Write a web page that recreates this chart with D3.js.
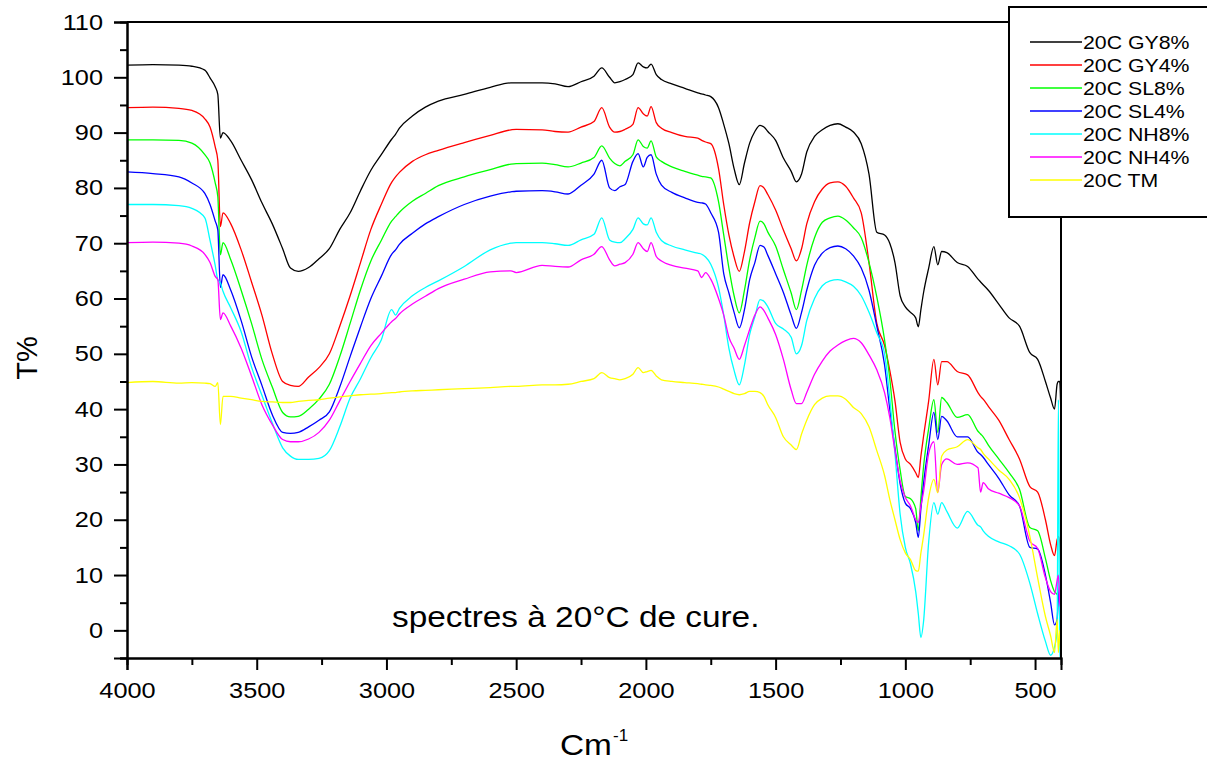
<!DOCTYPE html>
<html>
<head>
<meta charset="utf-8">
<script src="https://cdn.jsdelivr.net/npm/d3@7"></script>
<style>
body { margin: 0; background: #fff; }
text { font-family: "Liberation Sans", Arial, sans-serif; fill: #000; }
</style>
</head>
<body>
<div id="chart"></div>
<script>
// wavenumber grid (cm-1)
const wavenumbers = [
  4000,3900,3800,3750,3700,3680,3660,3650,3640,3630,
  3600,3560,3520,3480,3440,3400,3370,3340,3300,3260,
  3220,3180,3140,3100,3060,3020,2980,2965,2950,2900,
  2850,2800,2700,2600,2520,2500,2400,2350,2300,2250,
  2200,2170,2140,2120,2100,2080,2050,2030,2010,1995,
  1980,1960,1940,1900,1850,1800,1785,1770,1750,1720,
  1700,1680,1660,1640,1620,1600,1580,1560,1545,1530,
  1500,1470,1440,1420,1400,1380,1350,1320,1290,1260,
  1230,1200,1170,1140,1110,1080,1060,1040,1020,1000,
  980,960,950,940,930,910,890,875,860,840,
  800,760,720,710,700,680,640,600,560,520,
  490,460,440,425,415,410,405,400
];

// T% values, one array per sample
const gy8 = [
  102.2,102.3,102.2,102.0,101.3,99.9,98.3,96.9,89.0,90.0,
  88.5,85.0,81.5,77.3,73.5,69.0,65.5,64.9,65.6,67.2,
  69.0,72.5,75.5,79.5,83.2,86.0,88.8,89.7,90.8,93.0,
  94.6,95.7,96.9,98.2,99.0,99.0,99.0,98.8,98.3,99.2,
  100.2,101.7,100.0,99.0,99.2,99.6,100.5,102.6,101.9,101.7,
  102.4,100.5,99.6,98.8,98.0,97.2,97.0,96.8,96.5,94.5,
  91.5,88.0,83.5,80.6,84.5,88.1,90.2,91.3,91.0,90.2,
  88.6,85.4,83.0,81.1,82.5,86.5,89.3,90.5,91.3,91.6,
  91.0,90.1,88.0,82.5,72.0,71.5,70.0,66.5,60.5,58.5,
  57.5,56.5,54.9,58.0,61.0,65.5,69.4,66.1,68.5,68.3,
  66.5,65.8,63.5,63.0,62.5,61.5,59.0,56.5,55.0,50.2,
  49.0,45.0,42.0,40.0,44.5,45.0,45.0,38.0
];
const gy4 = [
  94.5,94.6,94.4,94.0,92.5,91.0,87.4,85.0,73.0,75.5,
  73.5,68.8,63.0,57.0,50.0,45.0,44.3,44.1,45.8,47.5,
  50.0,55.0,60.5,66.5,72.5,77.0,81.0,82.0,82.8,84.8,
  86.0,86.8,88.2,89.5,90.5,90.6,90.5,90.2,90.1,91.0,
  92.0,94.5,91.0,90.1,90.2,90.6,91.5,94.5,93.4,93.0,
  94.7,91.8,90.8,90.0,89.3,89.0,88.6,88.3,88.0,83.5,
  77.0,71.5,67.5,64.9,68.5,73.7,77.5,80.4,80.0,78.8,
  76.0,72.4,69.0,66.8,69.0,73.5,77.5,79.8,80.9,81.1,
  80.3,78.2,75.5,66.5,55.5,51.5,47.0,41.5,34.0,31.0,
  30.0,28.5,27.6,31.5,35.0,41.5,49.0,44.4,48.6,48.6,
  46.8,46.2,43.0,42.3,41.8,40.5,38.0,34.5,31.0,26.0,
  25.0,20.0,15.5,13.5,16.4,17.0,16.0,10.0
];
const sl8 = [
  88.7,88.7,88.6,88.1,86.0,84.5,80.9,78.4,67.9,70.1,
  67.0,61.5,55.5,49.0,44.0,39.4,38.6,38.7,40.0,41.8,
  44.5,49.5,55.5,61.6,66.8,70.5,74.0,74.8,75.6,77.6,
  79.0,80.4,82.0,83.3,84.3,84.4,84.5,84.2,83.8,84.5,
  85.5,87.6,85.4,84.4,84.0,84.8,86.0,88.7,87.5,87.2,
  88.5,85.6,84.8,83.8,83.0,82.3,82.1,82.0,81.8,77.5,
  71.5,65.5,60.5,57.4,61.5,67.0,71.0,74.0,73.5,72.0,
  69.5,65.2,61.0,58.0,61.5,66.0,71.0,73.8,74.6,74.9,
  74.2,72.8,71.0,66.5,60.3,52.5,45.5,36.0,29.0,24.2,
  23.8,22.0,18.0,24.0,29.5,36.5,41.7,35.8,42.1,41.2,
  38.5,39.0,36.0,35.5,35.0,33.5,31.0,28.5,25.5,18.6,
  18.0,13.0,9.0,7.0,6.5,6.0,5.0,3.0
];
const sl4 = [
  82.9,82.6,82.0,80.9,79.0,77.0,74.0,72.4,62.0,64.3,
  61.5,56.0,49.5,44.3,39.0,35.8,35.6,35.8,36.8,38.0,
  39.5,44.0,49.5,54.9,60.0,64.0,68.0,68.8,69.8,71.8,
  73.5,74.8,77.0,78.5,79.3,79.4,79.5,79.3,78.9,80.5,
  82.5,85.0,80.0,79.5,80.2,80.6,84.8,86.2,83.8,85.5,
  86.0,82.5,80.5,79.2,78.2,77.4,77.3,77.1,75.5,72.0,
  64.5,61.0,57.5,54.7,58.0,63.4,66.5,69.6,69.3,67.8,
  64.5,61.1,57.0,54.6,57.5,61.5,66.0,68.2,69.2,69.5,
  69.0,67.7,65.5,61.5,55.0,48.0,40.0,33.0,26.5,23.0,
  22.0,19.5,16.8,22.0,26.5,33.5,39.4,34.5,38.7,37.9,
  35.0,35.0,32.2,31.8,31.3,30.0,27.5,24.5,22.5,15.0,
  14.7,10.0,5.0,1.0,2.0,6.0,8.0,4.0
];
const nh8 = [
  77.0,77.0,76.8,76.3,74.6,70.5,66.0,63.4,62.8,61.3,
  58.3,54.0,47.6,42.5,37.5,33.0,31.5,30.9,30.9,31.1,
  32.5,36.8,42.0,45.5,49.3,52.5,58.0,57.0,58.2,60.5,
  62.0,63.2,65.8,68.8,70.0,70.1,70.1,69.9,69.6,70.6,
  71.6,74.6,70.6,70.2,70.1,70.8,72.5,74.6,73.5,73.3,
  74.6,72.0,70.5,69.5,68.8,68.2,68.0,67.5,66.2,62.0,
  57.0,51.0,47.0,44.4,48.0,53.5,56.7,59.8,59.5,58.5,
  55.5,54.5,53.0,50.0,51.5,56.0,60.0,62.3,63.2,63.4,
  63.0,62.2,60.5,57.5,53.8,50.0,42.0,32.0,21.0,15.0,
  12.0,7.0,3.0,-1.3,1.5,16.0,23.1,21.0,23.1,21.5,
  18.5,21.5,19.0,18.7,18.0,17.0,16.0,15.3,13.8,8.5,
  3.0,-2.0,-4.5,-3.0,0.0,41.7,-5.0,-5.0
];
const nh4 = [
  70.1,70.2,70.0,69.5,68.0,66.5,64.0,63.4,56.2,57.4,
  55.0,51.0,46.0,40.8,37.2,34.5,34.1,34.1,34.6,35.8,
  38.0,41.5,45.0,48.3,51.5,53.7,55.8,56.4,57.2,59.0,
  60.4,61.8,63.5,64.8,65.0,64.7,66.0,65.8,65.7,67.0,
  68.0,69.4,67.0,65.9,66.2,66.5,68.0,70.1,69.0,68.5,
  70.1,67.6,66.8,66.0,65.5,65.0,63.8,64.7,63.5,60.0,
  57.0,53.0,51.0,49.0,51.5,54.4,57.0,58.5,57.8,56.5,
  53.5,49.0,43.5,41.0,41.0,43.0,46.3,48.7,50.5,51.6,
  52.4,52.8,52.0,49.8,47.1,43.0,38.5,32.5,27.0,24.0,
  22.5,20.0,19.5,22.5,25.0,32.0,34.1,24.9,30.0,31.0,
  30.0,30.3,29.4,25.0,26.7,25.6,24.8,24.0,22.5,16.1,
  14.8,9.5,7.0,6.5,9.0,10.0,5.0,4.0
];
const tm = [
  44.8,45.0,44.7,44.8,44.7,44.6,44.1,44.8,37.2,42.3,
  42.3,42.0,41.7,41.4,41.3,41.2,41.2,41.4,41.6,41.7,
  42.0,42.2,42.4,42.6,42.7,42.8,43.0,43.0,43.1,43.3,
  43.4,43.5,43.7,43.9,44.1,44.1,44.4,44.4,44.5,45.0,
  45.5,46.6,45.7,45.5,45.3,45.5,46.3,47.5,46.6,46.8,
  47.0,46.0,45.3,45.0,44.8,44.6,44.5,44.4,44.3,44.0,
  43.6,43.2,42.8,42.6,42.8,43.2,43.2,43.0,42.3,40.8,
  38.5,35.0,33.5,32.7,35.5,38.0,40.8,42.0,42.4,42.4,
  41.8,40.3,39.2,36.8,32.5,28.0,23.7,20.0,16.4,14.0,
  12.8,10.8,10.7,14.0,17.0,24.0,27.3,24.9,31.5,32.6,
  33.2,34.5,33.0,32.7,32.0,31.0,29.0,27.3,24.0,17.0,
  9.5,2.5,-1.0,-4.0,2.0,-4.0,0.0,-5.0
];

const seriesNames = ['20C GY8%','20C GY4%','20C SL8%','20C SL4%','20C NH8%','20C NH4%','20C TM'];
const seriesValues = [gy8, gy4, sl8, sl4, nh8, nh4, tm];
const seriesColors = ['#000000','#ff0000','#00ff00','#0000ff','#00ffff','#ff00ff','#ffff00'];

const xMajorTicks = [4000,3500,3000,2500,2000,1500,1000,500];
const xMinorTicks = [3750,3250,2750,2250,1750,1250,750];
const yMajorTicks = [0,10,20,30,40,50,60,70,80,90,100,110];
const yMinorTicks = [-5,5,15,25,35,45,55,65,75,85,95,105];

const w = 1207;
const h = 760;
const plot = {left: 127, right: 1061, top: 22, bottom: 658};

const svg = d3.select('#chart').append('svg').attr('width', w).attr('height', h);

const x = d3.scaleLinear().domain([4000, 400]).range([plot.left, plot.right]);
const y = d3.scaleLinear().domain([-5, 110]).range([plot.bottom, plot.top]);

svg.append('clipPath').attr('id', 'clip')
  .append('rect')
  .attr('x', plot.left).attr('y', plot.top)
  .attr('width', plot.right - plot.left).attr('height', plot.bottom - plot.top);

// spectra
const line = d3.line()
  .x((d, i) => x(wavenumbers[i]))
  .y(d => y(d))
  .curve(d3.curveMonotoneX);

svg.append('g').attr('clip-path', 'url(#clip)')
  .selectAll('path')
  .data(seriesValues)
  .enter().append('path')
  .attr('d', line)
  .attr('fill', 'none')
  .attr('stroke', (d, i) => seriesColors[i])
  .attr('stroke-width', 1.3)
  .attr('stroke-linejoin', 'round');

// frame (top + right)
svg.append('path')
  .attr('d', `M${plot.left},${plot.top}H${plot.right}V${plot.bottom}`)
  .attr('fill', 'none').attr('stroke', '#000').attr('stroke-width', 2);

// left axis
svg.append('g').attr('transform', `translate(${plot.left},0)`)
  .call(d3.axisLeft(y).tickValues(yMajorTicks).tickSize(13).tickPadding(11).tickFormat(d3.format('d')));
svg.append('g').attr('transform', `translate(${plot.left},0)`)
  .call(d3.axisLeft(y).tickValues(yMinorTicks).tickSize(7).tickFormat(''));

// bottom axis
svg.append('g').attr('transform', `translate(0,${plot.bottom})`)
  .call(d3.axisBottom(x).tickValues(xMajorTicks).tickSize(12).tickPadding(12).tickFormat(d3.format('d')));
svg.append('g').attr('transform', `translate(0,${plot.bottom})`)
  .call(d3.axisBottom(x).tickValues(xMinorTicks).tickSize(7).tickFormat(''));

svg.selectAll('.domain').attr('stroke', '#000').attr('stroke-width', 2);
svg.selectAll('.tick line').attr('stroke', '#000').attr('stroke-width', 2);
svg.selectAll('.tick text')
  .attr('class', 'stretch')
  .style('font-family', '"Liberation Sans", Arial, sans-serif')
  .style('font-size', '22px');

// axis titles
svg.append('text')
  .attr('transform', 'translate(37,358) rotate(-90)')
  .attr('text-anchor', 'middle')
  .style('font-size', '29px')
  .text('T%');

svg.append('text').attr('class', 'stretch')
  .attr('x', 560).attr('y', 755)
  .style('font-size', '29px')
  .text('Cm');
svg.append('text')
  .attr('x', 613).attr('y', 741)
  .style('font-size', '17px')
  .text('-1');

// note inside the plot
svg.append('text').attr('class', 'stretch')
  .attr('x', 392).attr('y', 627)
  .style('font-size', '29px')
  .text('spectres à 20°C de cure.');

// legend box
const legend = svg.append('g');
legend.append('rect')
  .attr('x', 1009).attr('y', 7)
  .attr('width', 240).attr('height', 210)
  .attr('fill', '#fff').attr('stroke', '#000').attr('stroke-width', 2);

const rows = legend.selectAll('.row')
  .data(seriesNames)
  .enter().append('g')
  .attr('class', 'row')
  .attr('transform', (d, i) => `translate(0,${42 + i * 23})`);
rows.append('line')
  .attr('x1', 1030).attr('x2', 1082)
  .attr('stroke', (d, i) => seriesColors[i])
  .attr('stroke-width', 1.3);
rows.append('text').attr('class', 'stretch')
  .attr('x', 1083).attr('y', 6.5)
  .style('font-size', '18.5px')
  .text(d => d);

// the original picture is a bit wider than tall, so the lettering is stretched sideways
svg.selectAll('text.stretch').each(function () {
  const len = this.getComputedTextLength();
  d3.select(this).attr('textLength', len * 1.15).attr('lengthAdjust', 'spacingAndGlyphs');
});
</script>
</body>
</html>
